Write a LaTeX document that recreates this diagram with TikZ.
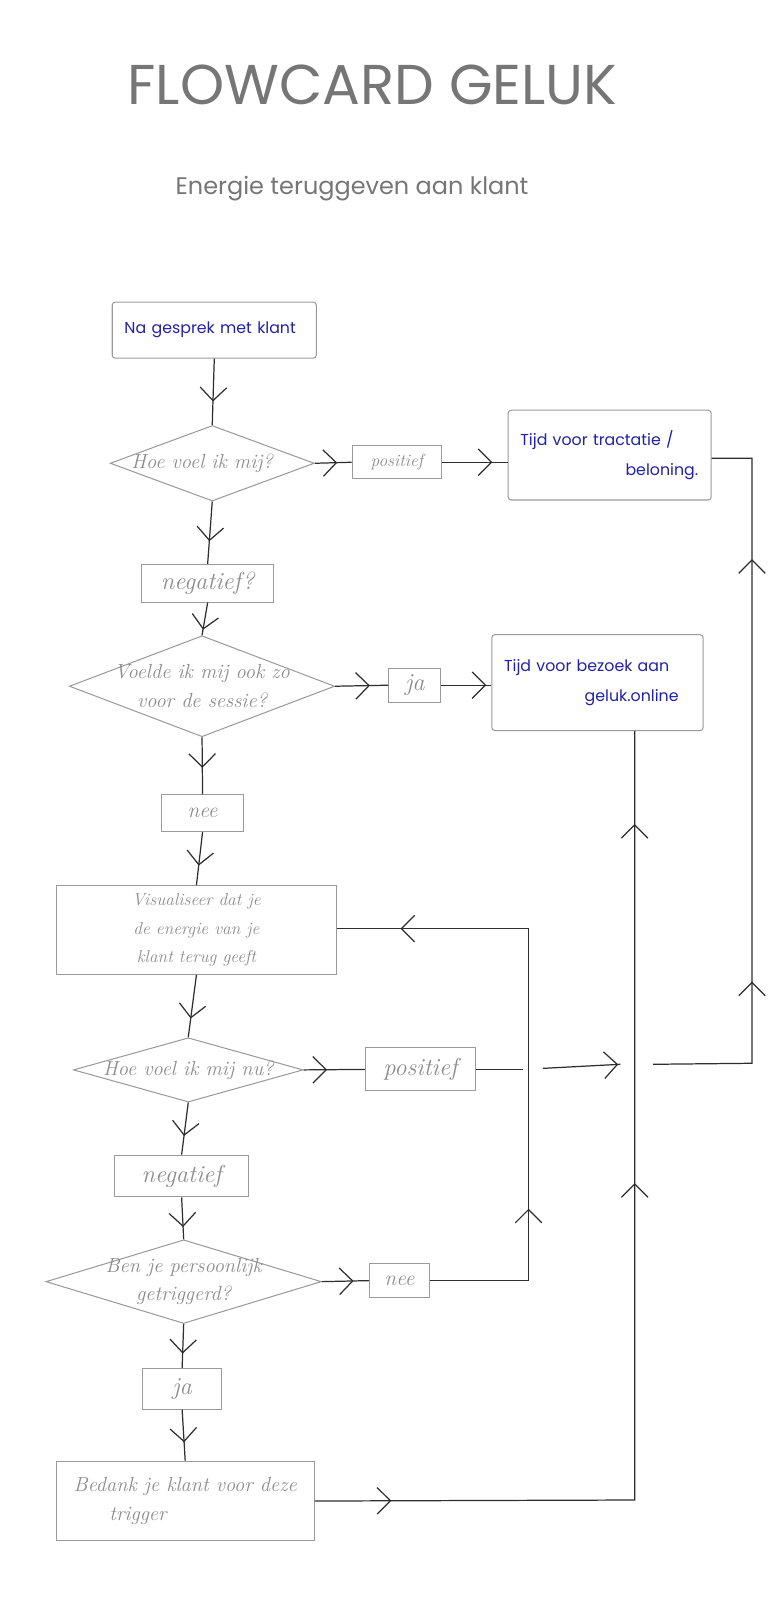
\documentclass[tikz,border=0pt]{standalone}
\usepackage{fontspec}
\usepackage{xcolor}
\usepackage{tikz}
\usetikzlibrary{positioning,arrows.meta,shapes.geometric,calc,decorations.markings}
\newfontfamily\kaartfont{Poppins}
\definecolor{inkt}{HTML}{2E2E2E}
\definecolor{rand}{HTML}{9A9A9A}
\definecolor{potlood}{HTML}{8C8C8C}
\definecolor{blauw}{HTML}{2222A8}
\definecolor{titelgrijs}{HTML}{767676}

\tikzset{
  kaart/.style={rectangle, draw=rand, line width=1pt, rounded corners=3pt, inner xsep=12pt, inner ysep=0pt,
    align=left, text=blauw, font=\kaartfont\fontsize{15.5}{29}\selectfont},
  hand/.style={font=\itshape\fontsize{#1}{28}\selectfont},
  beslis/.style={diamond, draw=rand, line width=1pt, inner sep=0pt},
  vraag/.style={label={[text=potlood, align=center, hand=20]center:#1}},
  antw/.style={rectangle, draw=rand, line width=1pt, inner sep=0pt, align=center, text=potlood, hand=17},
  lijn/.style={inkt, line width=1.2pt},
  pijl/.style={postaction={decorate, decoration={markings,
    mark=at position #1 with {\arrow{Straight Barb[length=13pt, width=26pt]}}}}}
}

\begin{document}
\begin{tikzpicture}[x=1pt, y=-1pt]
  \fill[white] (0,0) rectangle (762,1568);
  \useasboundingbox (0,0) rectangle (762,1568);
  % titel
  \node[titelgrijs, font=\kaartfont\fontsize{55}{60}\selectfont] (titel) at (365,83) {FLOWCARD GELUK};
  \node[titelgrijs, font=\kaartfont\fontsize{23.5}{26}\selectfont] (sub) at (345,185) {Energie teruggeven aan klant};
  % kaarten en vragen
  \node[kaart, minimum width=200pt, minimum height=55pt, text width=176pt] (start) at (210,323.5) {Na gesprek met klant};
  \node[beslis, minimum width=200pt, minimum height=74pt, vraag={\hspace*{-20pt}Hoe voel ik mij?}] (voel1) at (208,454) {};
  \node[antw, minimum width=88pt, minimum height=32pt] (pos1) at (389,453) {positief};
  \node[kaart, minimum width=199pt, minimum height=88pt, text width=175pt] (tractatie) at (597.5,446) {Tijd voor tractatie /\\\hspace*{103pt}beloning.};
  \node[antw, minimum width=129pt, minimum height=37pt, hand=24] (neg1) at (203.5,571.5) {negatief?};
  \node[beslis, minimum width=260pt, minimum height=99pt, vraag={Voelde ik mij ook zo\\voor de sessie?}] (voel2) at (198,672.5) {};
  \node[antw, minimum width=51pt, minimum height=33pt, hand=24] (ja1) at (406.5,671.5) {ja};
  \node[kaart, minimum width=207pt, minimum height=94pt, text width=183pt] (bezoek) at (585.5,669) {Tijd voor bezoek aan\\\hspace*{79pt}geluk.online};
  \node[antw, minimum width=81pt, minimum height=36pt, hand=21] (nee1) at (198.5,797) {nee};
  \node[antw, minimum width=275pt, minimum height=87pt, hand=17] (visual) at (192.5,911.5) {Visualiseer dat je\\de energie van je\\klant terug geeft};
  \node[beslis, minimum width=225pt, minimum height=63pt, vraag={Hoe voel ik mij nu?}] (voel3) at (184.5,1048.5) {};
  \node[antw, minimum width=108pt, minimum height=42pt, hand=24] (pos2) at (412,1048) {positief};
  \node[antw, minimum width=132pt, minimum height=41pt, hand=24] (neg2) at (178,1152.5) {negatief};
  \node[beslis, minimum width=270pt, minimum height=82pt, vraag={Ben je persoonlijk\\getriggerd?}] (trigger) at (180,1256) {};
  \node[antw, minimum width=59pt, minimum height=34pt, hand=21] (nee2) at (391.5,1255) {nee};
  \node[antw, minimum width=77pt, minimum height=40pt, hand=24] (ja2) at (178.5,1361) {ja};
  \node[antw, minimum width=253pt, minimum height=78pt, align=left, hand=20] (bedank) at (181.5,1471) {Bedank je klant voor deze\\\hspace*{35pt}trigger};
  % knikpunten
  \coordinate (h1) at (737,449);
  \coordinate (h2) at (737,1042);
  \coordinate (k1) at (518,910);
  \coordinate (k2) at (518,1255);
  \coordinate (b1) at (622,1470);
  \coordinate (g1) at (513,1048);
  \coordinate (g2) at (532,1047);
  \coordinate (g3) at (608,1043);
  \coordinate (g4) at (640,1043);
  % hoofdlijn
  \draw[lijn, pijl=42pt] (start.south) -- (voel1.north);
  \draw[lijn, pijl=39pt] (voel1.south) -- (neg1.north);
  \draw[lijn, pijl=27pt] (neg1.south) -- (voel2.north);
  \draw[lijn, pijl=30pt] (voel2.south) -- (nee1.north);
  \draw[lijn, pijl=33pt] (nee1.south) -- (visual.north);
  \draw[lijn, pijl=43pt] (visual.south) -- (voel3.north);
  \draw[lijn, pijl=33pt] (voel3.south) -- (neg2.north);
  \draw[lijn, pijl=29pt] (neg2.south) -- (trigger.north);
  \draw[lijn, pijl=29pt] (trigger.south) -- (ja2.north);
  \draw[lijn, pijl=32pt] (ja2.south) -- (bedank.north);
  % zijtakken
  \draw[lijn, pijl=22pt] (voel1.east) -- (pos1.west);
  \draw[lijn, pijl=49pt] (pos1.east) -- (pos1.east -| tractatie.west);
  \draw[lijn, pijl=34pt] (voel2.east) -- (ja1.west);
  \draw[lijn, pijl=44pt] (ja1.east) -- (ja1.east -| bezoek.west);
  \draw[lijn, pijl=23pt] (voel3.east) -- (pos2.west);
  \draw[lijn, pijl=31pt] (trigger.east) -- (nee2.west);
  % terugkoppelingen
  \draw[lijn, pijl=167pt, pijl=567pt] (nee2.east) -- (k2) -- (k1) -- (visual.east |- k1);
  \draw[lijn] (pos2.east) -- (g1);
  \draw[lijn, pijl=74pt] (g2) -- (g3);
  \draw[lijn, pijl=177pt, pijl=591pt] (g4) -- (h2) -- (h1) -- (tractatie.east |- h1);
  \draw[lijn, pijl=75pt, pijl=624pt, pijl=976pt] (bedank.east) -- (b1) -- (b1 |- bezoek.south);
\end{tikzpicture}
\end{document}
